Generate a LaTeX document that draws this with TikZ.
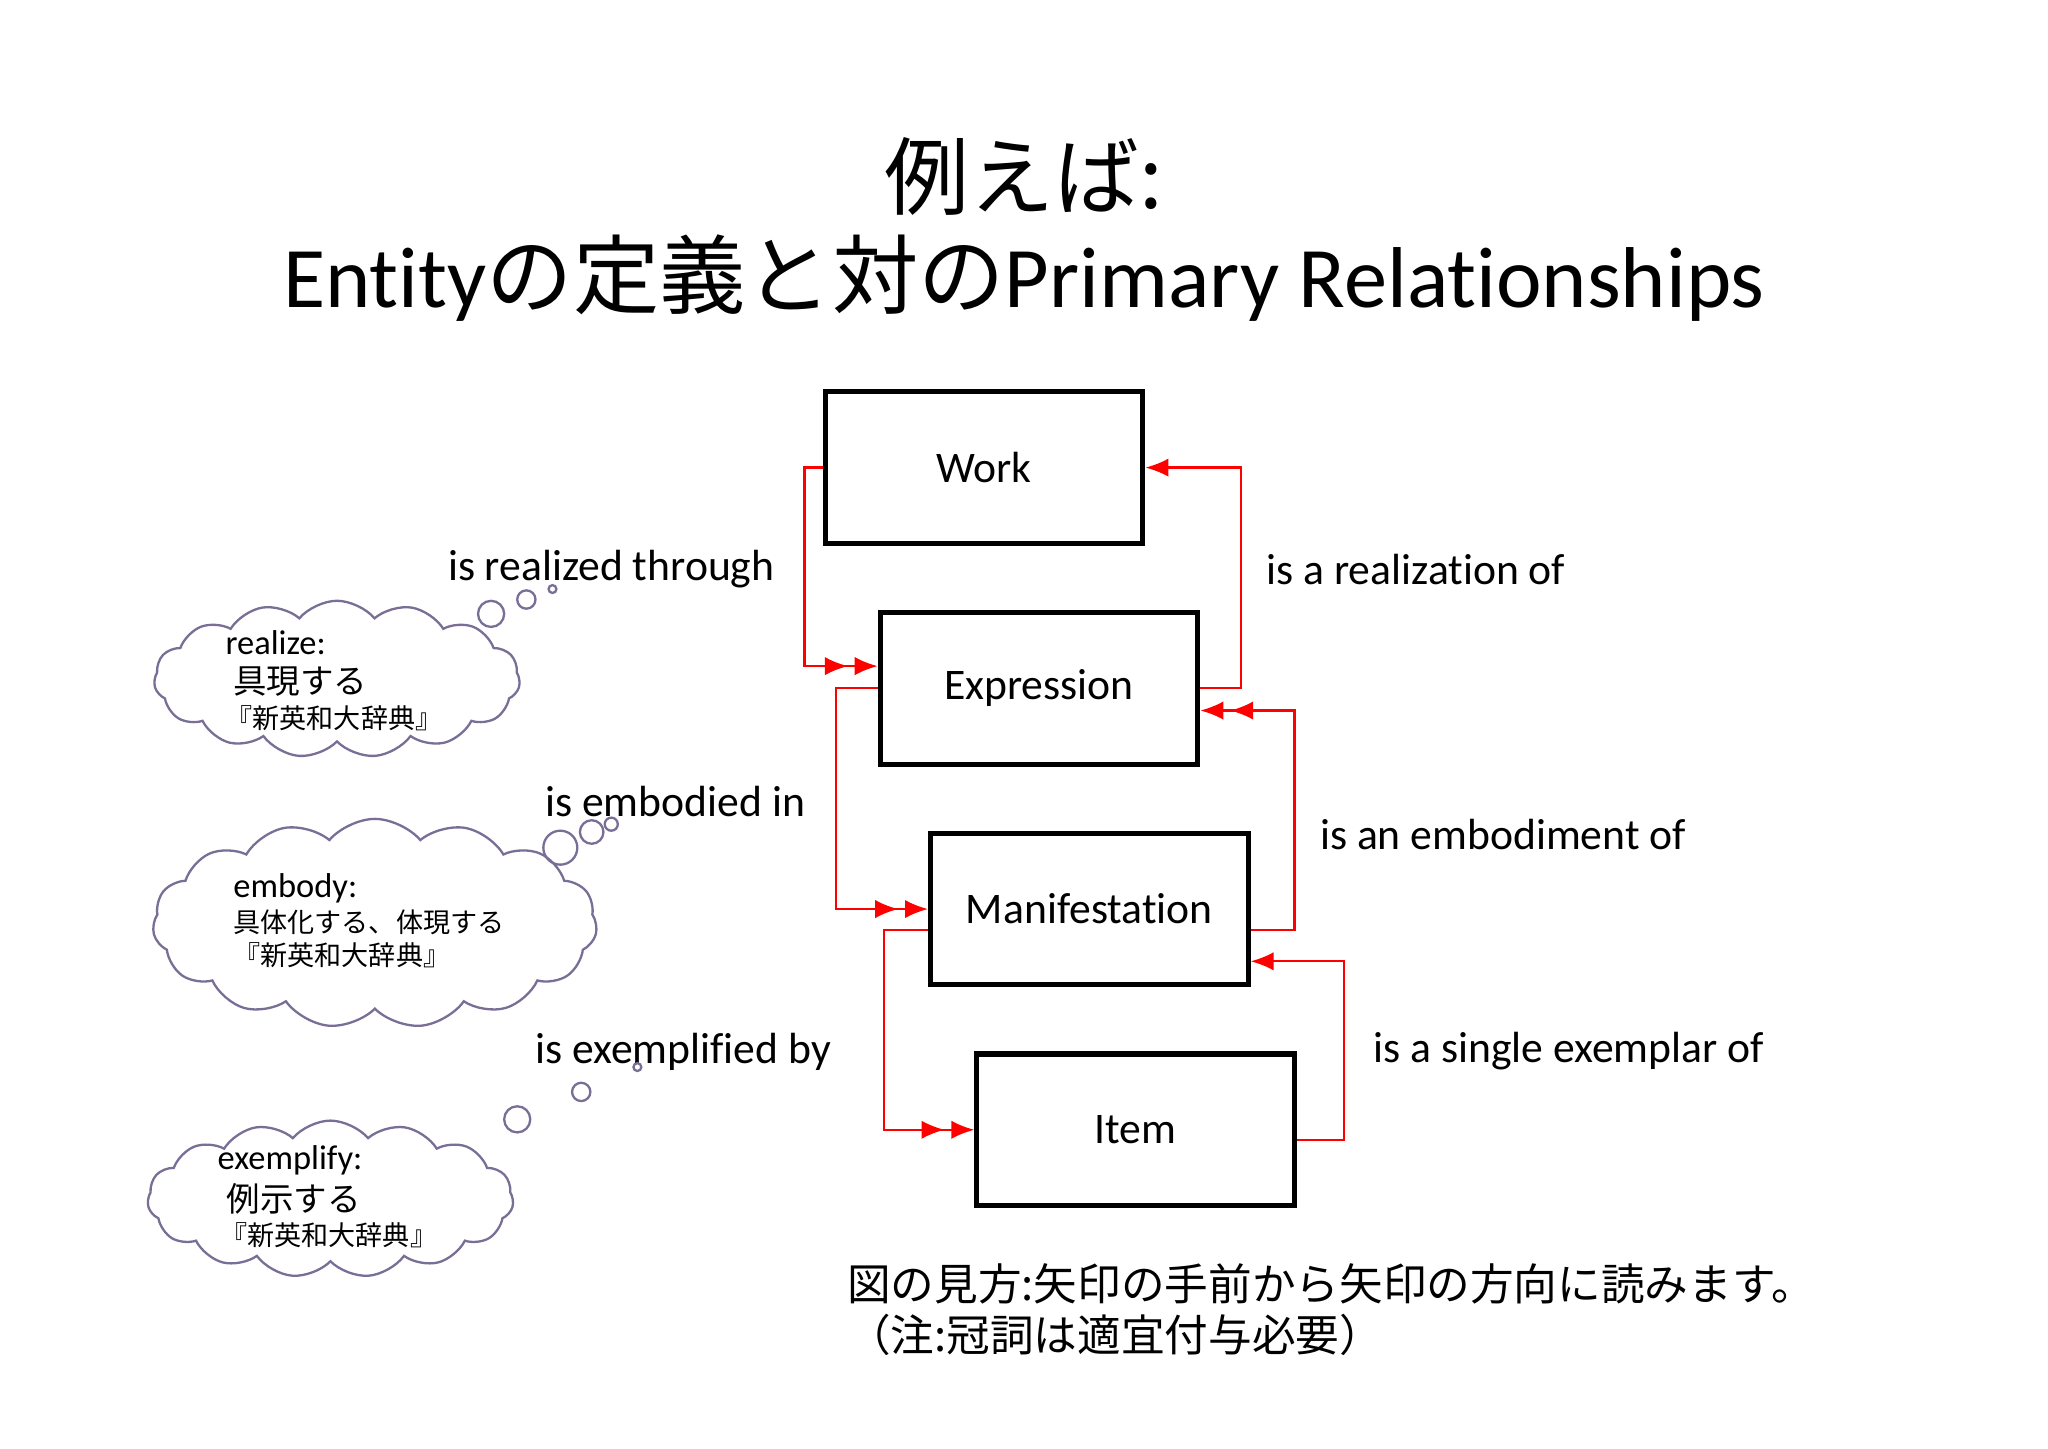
\documentclass[tikz,border=0pt]{standalone}
\usepackage{fontspec}
\setmainfont[Ligatures=NoCommon]{Carlito}
\newfontfamily\jp{Noto Sans CJK JP}
\usetikzlibrary{arrows.meta,shapes.symbols}
\begin{document}
\begin{tikzpicture}[x=0.01cm,y=-0.01cm,
  ent/.style={draw,line width=1.1pt,minimum width=2.43cm,minimum height=1.16cm,font=\fontsize{9.5}{11}\selectfont},
  rel/.style={red,line width=0.5pt},
  one/.style={rel,-{Latex[length=5pt,width=4pt]}},
  two/.style={rel,-{Latex[length=5pt,width=4pt,sep=1.5pt]Latex[length=5pt,width=4pt]}},
  lab/.style={font=\fontsize{9.5}{11}\selectfont},
  tx/.style={anchor=west,inner sep=0pt},
  cl/.style={draw=cloudc,line width=0.5pt,cloud,cloud puffs=15,cloud puff arc=100,aspect=2.3},
  bub/.style={draw=cloudc,line width=0.5pt,circle,inner sep=0pt}]
\definecolor{cloudc}{RGB}{120,110,150}
\useasboundingbox (0,0) rectangle (1568,1109);
\fill[white] (0,0) rectangle (1568,1109);
% title
\node (t1) at (784,135) {\fontsize{18.5}{20}\selectfont\jp 例えば:};
\node (t2) at (784,213) {\fontsize{18.8}{20}\selectfont Entity{\jp の定義と対の}Primary Relationships};
% entities
\node[ent] (work) at (753.5,358) {Work};
\node[ent] (expr) at (795.5,527) {Expression};
\node[ent] (man) at (834,696) {Manifestation};
\node[ent] (item) at (869.5,865) {Item};
% connectors
\draw[two] (work.west) -- (616,358) -- (616,510) -- (expr.west |- 0,510);
\draw[one] (expr.east) -- (950,527) -- (950,358) -- (work.east);
\draw[two] (expr.west) -- (640,527) -- (640,696) -- (man.west);
\draw[two] (man.east |- 0,712) -- (991,712) -- (991,544) -- (expr.east |- 0,544);
\draw[two] (man.west |- 0,712) -- (677,712) -- (677,865) -- (item.west);
\draw[one] (item.east |- 0,873) -- (1029,873) -- (1029,736) -- (man.east |- 0,736);
% labels
\node[lab] (l1) at (468,436) {is realized through};
\node[lab,tx] (l2) at (969,436) {is a realization of};
\node[lab] (l3) at (517,614) {is embodied in};
\node[lab,tx] (l4) at (1010,639) {is an embodiment of};
\node[lab] (l5) at (523,805) {is exemplified by};
\node[lab,tx] (l6) at (1051,805) {is a single exemplar of};
% clouds
\node[cl,minimum width=2.8cm,minimum height=1.2cm] (c1) at (258,520) {};
\node[bub,minimum size=0.2cm] (b11) at (376,470) {};
\node[bub,minimum size=0.14cm] (b12) at (403,459) {};
\node[bub,minimum size=0.06cm] (b13) at (423,451) {};
\node[tx,font=\fontsize{7.5}{9}\selectfont] (c1a) at (172,492) {realize:};
\node[tx,font=\fontsize{7.3}{9}\selectfont\jp] (c1b) at (178,522) {具現する};
\node[tx,font=\fontsize{5.9}{7}\selectfont\jp] (c1c) at (172,550) {『新英和大辞典』};
\node[cl,minimum width=3.4cm,minimum height=1.6cm] (c2) at (287,707) {};
\node[bub,minimum size=0.26cm] (b21) at (429,649) {};
\node[bub,minimum size=0.18cm] (b22) at (453,637) {};
\node[bub,minimum size=0.1cm] (b23) at (468,631) {};
\node[tx,font=\fontsize{7.5}{9}\selectfont] (c2a) at (178,680) {embody:};
\node[tx,font=\fontsize{5.9}{7}\selectfont\jp] (c2b) at (178,706) {具体化する、体現する};
\node[tx,font=\fontsize{5.9}{7}\selectfont\jp] (c2c) at (178,731) {『新英和大辞典』};
\node[cl,minimum width=2.8cm,minimum height=1.2cm] (c3) at (253,918) {};
\node[bub,minimum size=0.2cm] (b31) at (396,857) {};
\node[bub,minimum size=0.14cm] (b32) at (445,836) {};
\node[bub,minimum size=0.06cm] (b33) at (488,817) {};
\node[tx,font=\fontsize{7.5}{9}\selectfont] (c3a) at (166,888) {exemplify:};
\node[tx,font=\fontsize{7.3}{9}\selectfont\jp] (c3b) at (173,918) {例示する};
\node[tx,font=\fontsize{5.9}{7}\selectfont\jp] (c3c) at (168,946) {『新英和大辞典』};
% note
\node[tx,font=\fontsize{9.5}{11}\selectfont\jp] (n1) at (648,983) {図の見方:矢印の手前から矢印の方向に読みます。};
\node[tx,font=\fontsize{9.5}{11}\selectfont\jp] (n2) at (648,1022) {（注:冠詞は適宜付与必要）};
\end{tikzpicture}
\end{document}
